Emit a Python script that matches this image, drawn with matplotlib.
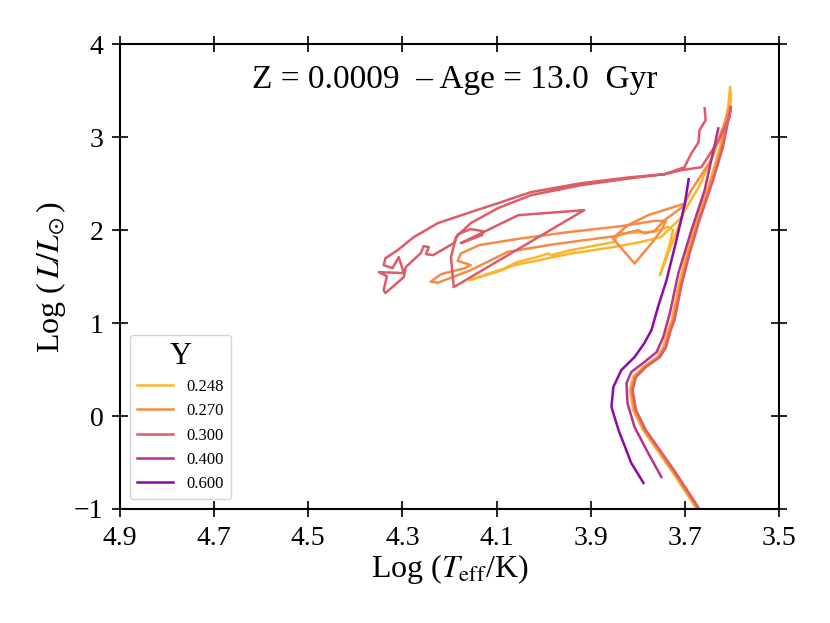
import matplotlib
matplotlib.use("Agg")
import matplotlib.pyplot as plt

plt.rcParams['font.family'] = ['Liberation Serif', 'DejaVu Serif']
plt.rcParams['mathtext.fontset'] = 'stix'

# helium abundances and colours
y_values = ["0.248", "0.270", "0.300", "0.400", "0.600"]
colors = ["#fcb62d", "#f58b47", "#dc5c68", "#b7338a", "#8c0aa6"]

# Y = 0.248
teff_248 = [3.669, 3.678, 3.725, 3.759, 3.789, 3.810, 3.817, 3.810, 3.789, 3.759, 3.746, 3.736,
            3.728, 3.714, 3.696, 3.675, 3.646, 3.625, 3.611, 3.608,
            3.604, 3.602, 3.612, 3.640, 3.672, 3.700, 3.722, 3.753, 3.735, 3.725, 3.736, 3.764,
            3.842, 3.849, 3.942, 3.984, 3.991, 4.012, 4.055, 4.084, 4.158, 4.098, 4.062, 4.027,
            3.942, 3.849, 3.792, 3.750, 3.705]
logl_248 = [-1.05, -0.978, -0.613, -0.366, -0.151, 0.065, 0.280, 0.419, 0.527, 0.634, 0.742, 0.925,
            1.032, 1.390, 1.749, 2.108, 2.538, 2.896, 3.255, 3.33,
            3.54, 3.40, 3.20, 2.80, 2.45, 2.215, 1.928, 1.516, 1.80, 2.00, 2.036, 1.982,
            1.965, 1.874, 1.785, 1.731, 1.749, 1.713, 1.659, 1.588, 1.462, 1.552, 1.624, 1.659,
            1.749, 1.820, 1.874, 1.928, 2.15]

# Y = 0.270
teff_270 = [3.666, 3.675, 3.722, 3.756, 3.786, 3.807, 3.814, 3.807, 3.786, 3.756, 3.743, 3.733,
            3.725, 3.711, 3.693, 3.672, 3.643, 3.622, 3.608, 3.604,
            3.612, 3.645, 3.690, 3.700, 3.778, 3.821, 3.853, 3.807, 3.771, 3.750, 3.740, 3.764,
            3.835, 3.942, 4.048, 4.137, 4.176, 4.183, 4.155, 4.169, 4.218, 4.240, 4.225, 4.155,
            4.076, 3.977, 3.849, 3.799, 3.785, 3.764, 3.743, 3.700]
logl_270 = [-1.05, -0.978, -0.613, -0.366, -0.151, 0.065, 0.280, 0.419, 0.527, 0.634, 0.742, 0.925,
            1.032, 1.390, 1.749, 2.108, 2.538, 2.896, 3.255, 3.33,
            3.20, 2.75, 2.40, 2.287, 2.161, 2.054, 1.911, 1.642, 1.857, 2.000, 2.100, 2.100,
            2.043, 1.982, 1.911, 1.839, 1.749, 1.670, 1.624, 1.588, 1.527, 1.445, 1.434, 1.570,
            1.767, 1.849, 1.935, 2.000, 1.965, 1.993, 2.108, 2.269]

# Y = 0.300
teff_300 = [3.663, 3.672, 3.719, 3.753, 3.783, 3.804, 3.811, 3.804, 3.783, 3.753, 3.740, 3.730,
            3.722, 3.708, 3.690, 3.669, 3.640, 3.619, 3.605, 3.602,
            3.605, 3.628, 3.665, 3.707, 3.743, 3.814, 3.920, 4.027, 4.097, 4.155, 4.225, 4.276,
            4.310, 4.336, 4.340, 4.321, 4.308, 4.297, 4.350, 4.333, 4.340, 4.336, 4.297, 4.293,
            4.261, 4.255, 4.244, 4.250, 4.235, 4.191, 4.182, 4.155, 4.129, 4.131, 4.176, 4.054,
            3.914, 4.191, 4.197, 4.186, 4.155, 4.097, 4.027, 3.920, 3.814, 3.743, 3.701, 3.686,
            3.671, 3.669, 3.656, 3.658]
logl_300 = [-1.05, -0.978, -0.613, -0.366, -0.151, 0.065, 0.280, 0.419, 0.527, 0.634, 0.742, 0.925,
            1.032, 1.390, 1.749, 2.108, 2.538, 2.896, 3.255, 3.33,
            3.215, 2.968, 2.677, 2.645, 2.602, 2.570, 2.505, 2.409, 2.290, 2.194, 2.075, 1.925,
            1.785, 1.699, 1.624, 1.591, 1.710, 1.538, 1.548, 1.505, 1.355, 1.323, 1.495, 1.602,
            1.753, 1.828, 1.817, 1.742, 1.731, 1.860, 1.957, 2.011, 1.989, 1.946, 1.860, 2.161,
            2.215, 1.387, 1.710, 1.925, 2.075, 2.237, 2.376, 2.484, 2.559, 2.602, 2.677, 2.828,
            2.946, 3.075, 3.183, 3.312]

# Y = 0.400
teff_400 = [3.750, 3.778, 3.807, 3.822, 3.824, 3.814, 3.786, 3.760, 3.746, 3.732, 3.714, 3.686,
            3.658, 3.629]
logl_400 = [-0.656, -0.398, -0.118, 0.140, 0.355, 0.473, 0.581, 0.688, 0.849, 1.104, 1.534, 2.000,
            2.430, 3.095]

# Y = 0.600
teff_600 = [3.788, 3.814, 3.841, 3.856, 3.852, 3.835, 3.807, 3.786, 3.771, 3.757, 3.739, 3.718,
            3.700, 3.692]
logl_600 = [-0.720, -0.505, -0.151, 0.097, 0.312, 0.495, 0.634, 0.785, 0.925, 1.175, 1.462, 1.892,
            2.287, 2.548]

tracks = [(teff_248, logl_248), (teff_270, logl_270), (teff_300, logl_300),
          (teff_400, logl_400), (teff_600, logl_600)]

x_ticks = [4.9, 4.7, 4.5, 4.3, 4.1, 3.9, 3.7, 3.5]
y_ticks = [-1, 0, 1, 2, 3, 4]

fig = plt.figure(figsize=(8.3, 6.23), dpi=100)
ax = fig.add_axes([0.1446, 0.183, 0.794, 0.746])

for (teff, logl), label, color in zip(tracks, y_values, colors):
    ax.plot(teff, logl, color=color, lw=1.8, label=label)

ax.set_xlim(4.9, 3.5)
ax.set_ylim(-1, 4)
ax.set_xticks(x_ticks)
ax.set_xticklabels([f"{t:.1f}" for t in x_ticks])
ax.set_yticks(y_ticks)
ax.set_yticklabels([str(t).replace('-', '\u2212') for t in y_ticks])

ax.tick_params(direction='inout', length=12, width=1.2, labelsize=20, pad=6,
               top=True, right=True)
for sp in ax.spines.values():
    sp.set_linewidth(1.5)

ax.set_xlabel(r'Log ($T_{\rm eff}$/K)', fontsize=23, labelpad=1)
ax.set_ylabel(r'Log ($\,L/L_{\odot}\,$)', fontsize=23, labelpad=4)

ax.text(0.508, 0.923, 'Z = 0.0009  \u2013 Age = 13.0  Gyr', transform=ax.transAxes,
        ha='center', va='center', fontsize=24)

leg = ax.legend(title='Y', loc='lower left', fontsize=12, title_fontsize=22,
                handlelength=2.2, borderaxespad=0.6)

fig.savefig('out.png', dpi=100)
